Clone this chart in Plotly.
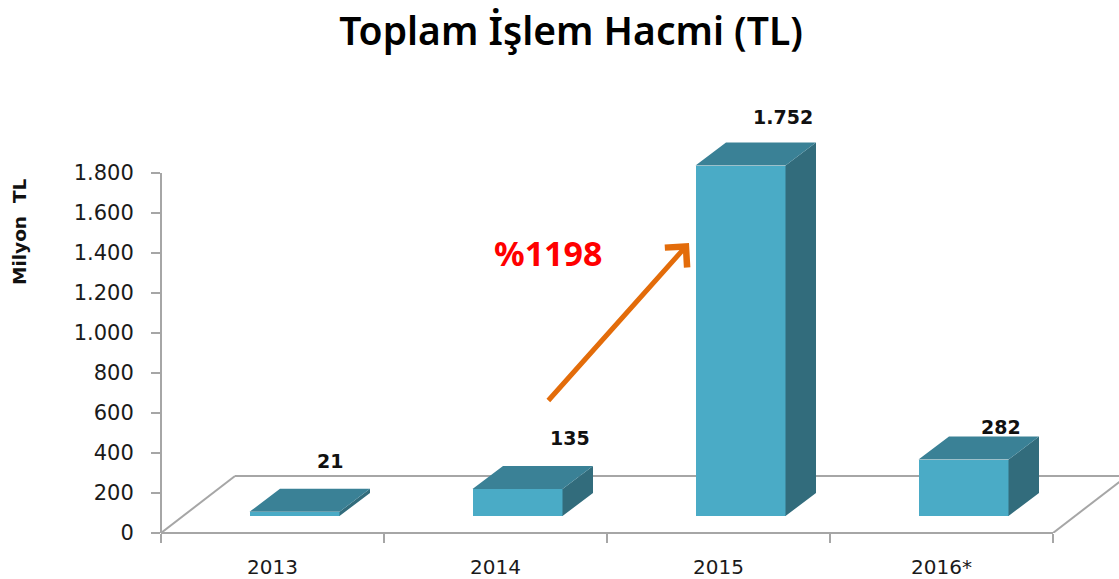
import plotly.graph_objects as go

# --- data ---
categories = ["2013", "2014", "2015", "2016*"]
values = [21, 135, 1752, 282]
y_ticks = [0, 200, 400, 600, 800, 1000, 1200, 1400, 1600, 1800]
title_text = "Toplam İşlem Hacmi (TL)"
y_title = "Milyon  TL"
growth_text = "%1198"

# --- pseudo-3D geometry, in axis units ---
PX_X = 223.0       # px per category
PX_Y = 0.2         # px per value unit
Y_MAX = 2200
BAR_W = 90 / PX_X
BAR_SHIFT = 22 / PX_X
BAR_BASE = 17 / PX_Y
DEPTH_X = 30.5 / PX_X
DEPTH_Y = 23 / PX_Y
FLOOR_X = 74 / PX_X
FLOOR_Y = 57 / PX_Y
X_MAX = (1119 - 161) / PX_X

FRONT = "#4AABC6"
TOP = "#3A8196"
SIDE = "#326C7C"
AXIS = "#A6A6A6"
INK = "#1a1a1a"
FONT = "DejaVu Sans"


def tl(v):
    return f"{v:,}".replace(",", ".")


centers = [i + 0.5 + BAR_SHIFT for i in range(len(values))]

top_x, top_y, side_x, side_y = [], [], [], []
for c, v in zip(centers, values):
    x0, x1 = c - BAR_W / 2, c + BAR_W / 2
    h = BAR_BASE + v
    top_x += [x0, x1, x1 + DEPTH_X, x0 + DEPTH_X, x0, None]
    top_y += [h, h, h + DEPTH_Y, h + DEPTH_Y, h, None]
    side_x += [x1, x1, x1 + DEPTH_X, x1 + DEPTH_X, x1, None]
    side_y += [BAR_BASE, h, h + DEPTH_Y, BAR_BASE + DEPTH_Y, BAR_BASE, None]

fig = go.Figure()
fig.add_bar(x=centers, y=values, base=BAR_BASE, width=BAR_W,
            marker=dict(color=FRONT, line=dict(width=0)),
            hoverinfo="skip", name="İşlem Hacmi")
for xs, ys, col in ((side_x, side_y, SIDE), (top_x, top_y, TOP)):
    fig.add_scatter(x=xs, y=ys, mode="lines", fill="toself", fillcolor=col,
                    line=dict(width=0, color=col), hoverinfo="skip")

line = dict(color=AXIS, width=2)
shapes = [
    # y axis and front edge of the floor
    dict(type="line", xref="paper", yref="y", x0=0, x1=0, y0=0, y1=1800, line=line, layer="below"),
    dict(type="line", xref="x", yref="paper", x0=0, x1=4, y0=0, y1=0, line=line, layer="below"),
    # floor
    dict(type="line", xref="x", yref="y", x0=0, x1=FLOOR_X, y0=0, y1=FLOOR_Y, line=line, layer="below"),
    dict(type="line", xref="x", yref="y", x0=FLOOR_X, x1=X_MAX, y0=FLOOR_Y, y1=FLOOR_Y, line=line, layer="below"),
    dict(type="line", xref="x", yref="y", x0=4, x1=4 + FLOOR_X, y0=0, y1=FLOOR_Y, line=line, layer="below"),
]

label_shift = [(35, 51), (52, 51), (42, 49), (37, 33)]
annotations = [
    dict(x=c, y=BAR_BASE + v, xref="x", yref="y", text=f"<b>{tl(v)}</b>", showarrow=False,
         xshift=sx, yshift=sy, font=dict(family=FONT, size=19, color="#111111"))
    for c, v, (sx, sy) in zip(centers, values, label_shift)
]
annotations += [
    dict(x=(19 - 161) / (1119 - 161), y=(533 - 232) / (Y_MAX * PX_Y), xref="paper", yref="paper",
         text=f"<b>{y_title}</b>", showarrow=False, textangle=-90,
         font=dict(family=FONT, size=18.5, color="#111111"), xanchor="center", yanchor="middle"),
    dict(x=(689 - 161) / PX_X, y=(533 - 243) / PX_Y, ax=(547 - 161) / PX_X, ay=(533 - 402) / PX_Y,
         xref="x", yref="y", axref="x", ayref="y",
         showarrow=True, arrowhead=4, arrowsize=1.15, arrowwidth=5, arrowcolor="#E36C0A", text=""),
    dict(x=(548 - 161) / PX_X, y=(533 - 253) / PX_Y, xref="x", yref="y", text=f"<b>{growth_text}</b>",
         showarrow=False, font=dict(family="Noto Sans", size=34, color="#FF0000")),
]

fig.update_layout(
    width=1119, height=579,
    margin=dict(l=161, r=0, t=533 - Y_MAX * PX_Y, b=46),
    paper_bgcolor="white", plot_bgcolor="white",
    showlegend=False, bargap=0,
    title=dict(text=title_text, x=571 / 1119, xanchor="center", y=1 - 31 / 579, yanchor="middle",
               font=dict(family="Noto Sans", size=39, color="black", weight=600)),
    shapes=shapes, annotations=annotations,
)
fig.update_xaxes(range=[0, X_MAX], showgrid=False, zeroline=False, showline=False,
                 tickmode="array", tickvals=[i + 0.5 for i in range(4)], ticktext=categories,
                 ticks="", ticklabelstandoff=20,
                 tickfont=dict(family=FONT, size=20, color=INK),
                 minor=dict(tickmode="array", tickvals=list(range(5)), ticks="outside",
                            ticklen=9, tickwidth=2, tickcolor=AXIS, showgrid=False))
fig.update_yaxes(range=[0, Y_MAX], showgrid=False, zeroline=False, showline=False,
                 tickmode="array", tickvals=y_ticks, ticktext=[tl(v) for v in y_ticks],
                 ticks="outside", ticklen=9, tickwidth=2, tickcolor=AXIS, ticklabelstandoff=13,
                 tickfont=dict(family=FONT, size=21, color=INK))

fig.write_html("out.html", post_script="document.body.style.margin='0';document.body.style.overflow='hidden';",
               config=dict(displayModeBar=False))
